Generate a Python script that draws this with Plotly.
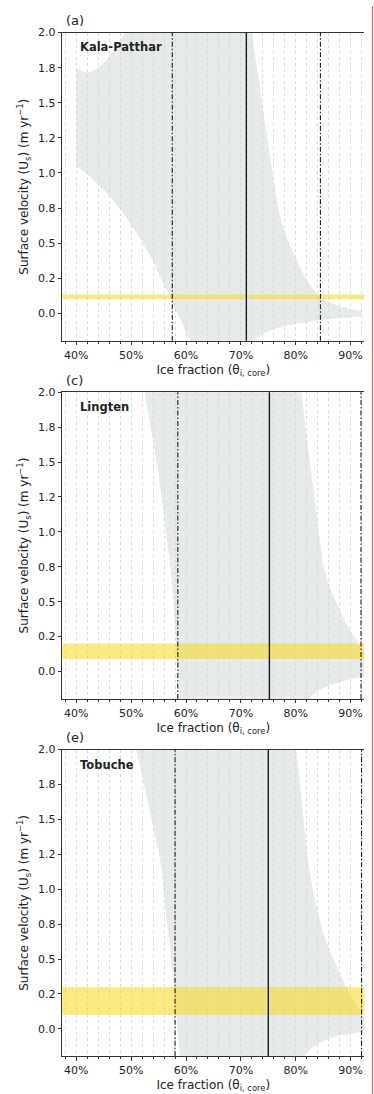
import plotly.graph_objects as go
from plotly.subplots import make_subplots

FONT = "DejaVu Sans"
W, H = 374, 1094

# Ice fraction (%) and the envelope (upper / lower) of modelled surface velocity (m/yr)
theta_kala = [40, 41, 42, 43, 44, 45, 46, 47, 48, 49, 50, 52, 54, 56, 58, 60, 62, 64, 66, 68, 70,
              71, 72, 73, 74, 75, 76, 77, 78, 79, 80, 81, 82, 83, 84, 85, 86, 88, 90, 92]
upper_kala = [1.75, 1.725, 1.716, 1.725, 1.75, 1.785, 1.83, 1.88, 1.94, 2.01, 2.1, 2.3, 2.6, 2.9, 3.2, 3.5, 3.7, 3.6, 3.4, 3.1, 2.7,
              2.35, 2.0, 1.73, 1.46, 1.2, 0.94, 0.71, 0.58, 0.48, 0.39, 0.31, 0.24, 0.18, 0.13, 0.10, 0.08, 0.05, 0.03, 0.015]
lower_kala = [1.05, 1.02, 0.99, 0.955, 0.92, 0.88, 0.84, 0.79, 0.74, 0.69, 0.63, 0.51, 0.37, 0.20, 0.03, -0.13, -0.30, -0.45, -0.55, -0.55, -0.45,
              -0.33, -0.22, -0.175, -0.148, -0.128, -0.113, -0.10, -0.09, -0.081, -0.074, -0.067, -0.061, -0.055, -0.05, -0.045, -0.04, -0.032, -0.026, -0.02]

theta_ling = [48, 50, 52, 53, 54, 55, 56, 57, 57.5, 58, 58.5, 59, 60, 62, 66, 70, 74, 78, 80,
              81, 82, 82.5, 83, 84, 85, 86, 87, 88, 89, 90, 91, 92, 92.5]
upper_ling = [4.0, 4.0, 4.0, 4.0, 4.0, 4.0, 4.0, 4.0, 4.0, 4.0, 4.0, 4.0, 4.0, 4.0, 4.0, 3.8, 3.4, 2.8, 2.35,
              2.0, 1.68, 1.53, 1.38, 1.06, 0.77, 0.62, 0.53, 0.44, 0.36, 0.29, 0.22, 0.16, 0.13]
lower_ling = [3.0, 2.6, 2.1, 1.87, 1.65, 1.41, 1.12, 0.80, 0.60, 0.33, 0.05, -0.25, -0.6, -0.8, -0.9, -0.9, -0.8, -0.5, -0.35,
              -0.28, -0.22, -0.2, -0.17, -0.14, -0.12, -0.10, -0.088, -0.075, -0.065, -0.055, -0.047, -0.04, -0.036]

theta_tobu = [46, 48, 49, 50, 51, 52, 53, 54, 55, 55.5, 56, 56.5, 57, 57.5, 58, 58.5, 59, 60, 62, 66, 70, 74, 78,
              79, 80, 81, 81.4, 82, 83, 84, 85, 86, 87, 88, 89, 90, 91, 92, 92.5]
upper_tobu = [4.0, 4.0, 4.0, 4.0, 4.0, 4.0, 4.0, 4.0, 4.0, 4.0, 4.0, 4.0, 4.0, 4.0, 4.0, 4.0, 4.0, 4.0, 4.0, 4.0, 3.8, 3.4, 2.8,
              2.4, 2.04, 1.66, 1.5, 1.27, 1.02, 0.84, 0.69, 0.58, 0.49, 0.40, 0.32, 0.24, 0.17, 0.11, 0.08]
lower_tobu = [3.0, 2.55, 2.35, 2.15, 1.95, 1.78, 1.61, 1.44, 1.27, 1.15, 0.98, 0.77, 0.62, 0.45, 0.22, -0.04, -0.25, -0.6, -0.8, -0.9, -0.9, -0.8, -0.5,
              -0.4, -0.3, -0.23, -0.2, -0.17, -0.135, -0.11, -0.09, -0.07, -0.058, -0.048, -0.04, -0.034, -0.028, -0.023, -0.02]

# Observed surface velocity range (m/yr)
band_kala = [0.10, 0.135]
band_ling = [0.09, 0.20]
band_tobu = [0.10, 0.30]

# Ice fraction estimates (%): lower bound, central value, upper bound
icefrac_kala = [57.5, 71.0, 84.5]
icefrac_ling = [58.5, 75.2, 91.9]
icefrac_tobu = [58.0, 75.0, 92.0]

site_names = ["Kala-Patthar", "Lingten", "Tobuche"]
panel_letters = ["(a)", "(c)", "(e)"]

y_tickvals = [0.0, 0.25, 0.5, 0.75, 1.0, 1.25, 1.5, 1.75, 2.0]
y_ticktext = ["0.0", "0.2", "0.5", "0.8", "1.0", "1.2", "1.5", "1.8", "2.0"]
x_tickvals = [40, 50, 60, 70, 80, 90]
x_ticktext = ["40%", "50%", "60%", "70%", "80%", "90%"]

panels = [
    (theta_kala, upper_kala, lower_kala, band_kala, icefrac_kala),
    (theta_ling, upper_ling, lower_ling, band_ling, icefrac_ling),
    (theta_tobu, upper_tobu, lower_tobu, band_tobu, icefrac_tobu),
]

# Axis boxes in pixels: (top, bottom)
x_left_px, x_right_px = 62.3, 364.3
rows_px = [(26.7, 336.7), (388.3, 696.7), (747.7, 1056.0)]

fig = make_subplots(rows=3, cols=1)

AXIS_COLOR = "#333333"
TEXT_COLOR = "#222222"
GRID_COLOR = "#d9d9d9"

for i, (theta, upper, lower, band, icefrac) in enumerate(panels):
    r = i + 1
    # envelope polygon: along the upper bound, back along the lower bound
    fig.add_trace(
        go.Scatter(
            x=list(theta) + list(theta)[::-1],
            y=list(upper) + list(lower)[::-1],
            fill="toself",
            fillcolor="rgba(212,216,216,0.55)",
            line=dict(width=0),
            mode="lines",
            hoverinfo="skip",
            showlegend=False,
        ),
        row=r, col=1,
    )
    fig.add_hrect(y0=band[0], y1=band[1], fillcolor="rgba(247,215,30,0.55)",
                  line_width=0, layer="above", row=r, col=1)
    for j, xv in enumerate(icefrac):
        if j == 1:
            ln = dict(color="#1a1a1a", width=1.4)
        else:
            ln = dict(color="#1a1a1a", width=1.1, dash="5px,2px,1.5px,2px")
        fig.add_vline(x=xv, line=ln, layer="above", row=r, col=1)

    top_px, bot_px = rows_px[i]
    xa = "xaxis" if r == 1 else f"xaxis{r}"
    ya = "yaxis" if r == 1 else f"yaxis{r}"
    fig.layout[xa].update(
        domain=[x_left_px / W, x_right_px / W],
        range=[37.45, 92.5],
        tickvals=x_tickvals, ticktext=x_ticktext,
        ticks="outside", ticklen=3.5, tickwidth=1, tickcolor=AXIS_COLOR,
        showline=True, linecolor=AXIS_COLOR, linewidth=1.2, mirror=True,
        showgrid=True, gridcolor=GRID_COLOR, gridwidth=0.8, griddash="dot",
        minor=dict(dtick=2, tick0=38, ticks="outside", ticklen=2, tickwidth=0.8,
                   tickcolor=AXIS_COLOR, showgrid=True, gridcolor=GRID_COLOR,
                   gridwidth=0.8, griddash="dot"),
        zeroline=False,
        tickfont=dict(family=FONT, size=11, color=TEXT_COLOR),
        title=dict(text="Ice fraction (θ<sub>i, core</sub>)",
                   font=dict(family=FONT, size=12, color=TEXT_COLOR), standoff=4),
    )
    fig.layout[ya].update(
        domain=[1 - bot_px / H, 1 - top_px / H],
        range=[-0.196, 2.0],
        tickvals=y_tickvals, ticktext=y_ticktext,
        ticks="outside", ticklen=3.5, tickwidth=1, tickcolor=AXIS_COLOR,
        showline=True, linecolor=AXIS_COLOR, linewidth=1.2, mirror=False,
        showgrid=False, zeroline=False,
        tickfont=dict(family=FONT, size=11, color=TEXT_COLOR),
        title=dict(text="Surface velocity (U<sub>s</sub>) (m yr<sup>−1</sup>)",
                   font=dict(family=FONT, size=12, color=TEXT_COLOR), standoff=6),
    )

    # panel letter above the axes, site name inside the top-left corner
    fig.add_annotation(
        x=(x_left_px + 2) / W, y=1 - (top_px - 12) / H, xref="paper", yref="paper",
        text=panel_letters[i], showarrow=False, xanchor="left", yanchor="middle",
        font=dict(family=FONT, size=13, color=TEXT_COLOR),
    )
    fig.add_annotation(
        x=78.3 / W, y=1 - (top_px + 15) / H, xref="paper", yref="paper",
        text=f"<b>{site_names[i]}</b>", showarrow=False, xanchor="left", yanchor="middle",
        font=dict(family=FONT, size=11.5, color=TEXT_COLOR),
    )

# thin red frame line along the right edge
fig.add_shape(type="line", xref="paper", yref="paper", x0=372.5 / W, x1=372.5 / W, y0=0, y1=1,
              line=dict(color="#e06666", width=1.2))

fig.update_layout(
    width=W, height=H,
    margin=dict(l=0, r=0, t=0, b=0),
    paper_bgcolor="white", plot_bgcolor="white",
    showlegend=False,
    font=dict(family=FONT, color=TEXT_COLOR),
)

fig.write_html("out.html")
